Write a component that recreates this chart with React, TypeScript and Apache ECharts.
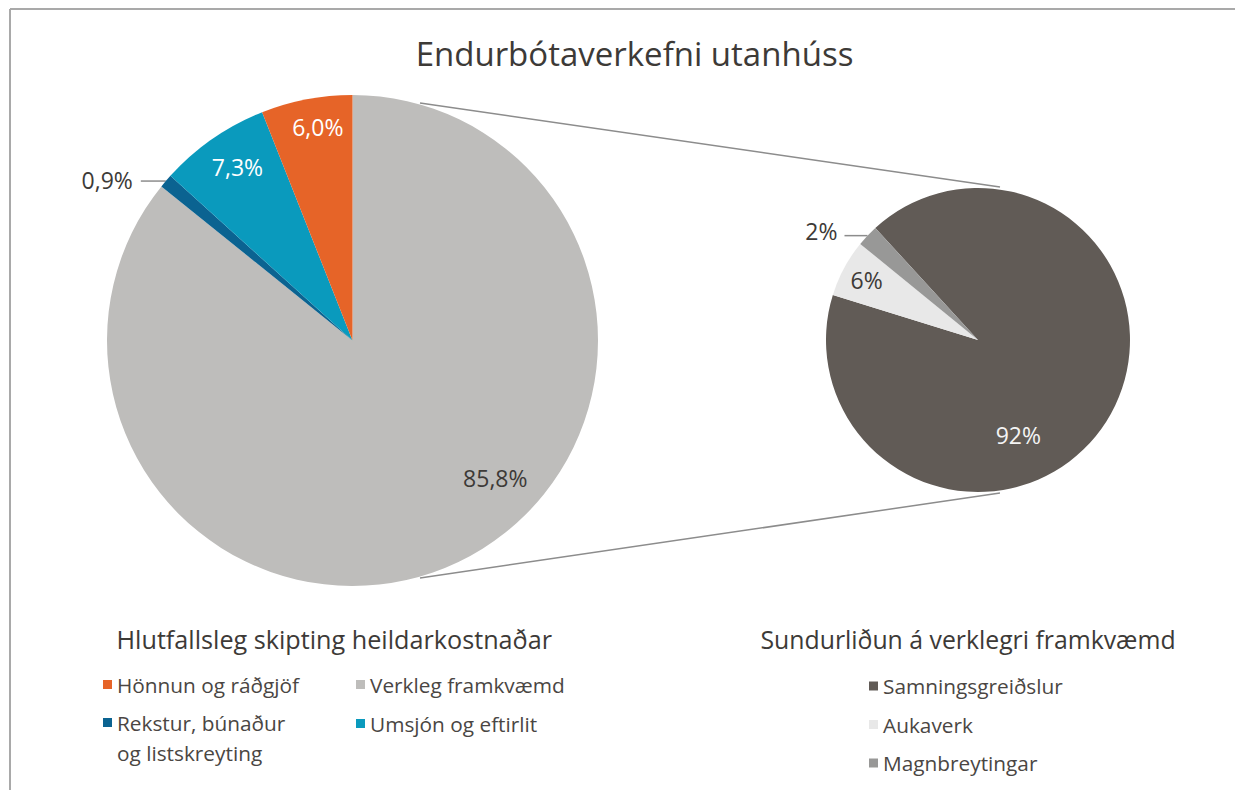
import React, { useEffect, useRef } from 'react';
import * as echarts from 'echarts';

const titleText = 'Endurbótaverkefni utanhúss';
const leftLegendTitle = 'Hlutfallsleg skipting heildarkostnaðar';
const rightLegendTitle = 'Sundurliðun á verklegri framkvæmd';

const leftCategories = ['Verkleg framkvæmd', 'Rekstur, búnaður og listskreyting', 'Umsjón og eftirlit', 'Hönnun og ráðgjöf'];
const leftValues = [85.8, 0.9, 7.3, 6.0];
const rightCategories = ['Samningsgreiðslur', 'Aukaverk', 'Magnbreytingar'];
const rightValues = [91.6, 6.1, 2.3];

const leftColors = ['#bebdbb', '#0b6391', '#0a9abd', '#e66428'];
const rightColors = ['#615b56', '#e8e8e8', '#989897'];
const DARK = '#3d3a37';
const leftLabelColors = [DARK, DARK, '#ffffff', '#ffffff'];
const rightLabelColors = ['#f4f4f4', DARK, DARK];
const leftOutside = [false, true, false, false];
const rightOutside = [false, false, true];
// inside label anchors, offsets from the pie centre (styling)
const leftLabelOffsets: (number[] | null)[] = [[142.8, 137.8], null, [-115, -173.3], [-34.7, -213.8]];
const rightLabelOffsets: (number[] | null)[] = [[40.3, 95], [-111.3, -60], null];

const FONT = '"Open Sans", "Noto Sans", sans-serif';
const LEFT_C = [352.5, 340.5];
const LEFT_R = 245.5;
const RIGHT_C = [978, 340];
const RIGHT_R = 152;

export default function App() {
  const ref = useRef<HTMLDivElement>(null);
  useEffect(() => {
    if (!ref.current) return;
    const chart = echarts.init(ref.current, undefined, { renderer: 'svg' });
    const legendText = { fontFamily: FONT, fontSize: 20.8, color: '#4a4643', lineHeight: 30 };
    const legendCommon = { orient: 'vertical', padding: 0, icon: 'rect', itemWidth: 9, itemHeight: 9, selectedMode: false };
    const option: any = {
      animation: false,
      backgroundColor: '#ffffff',
      title: [
        { text: titleText, left: 634.5, top: 37, textAlign: 'center', padding: 0,
          textStyle: { fontFamily: FONT, fontSize: 33, fontWeight: 'normal', color: DARK } },
        { text: leftLegendTitle, left: 116.5, top: 626, padding: 0,
          textStyle: { fontFamily: FONT, fontSize: 25.2, fontWeight: 'normal', color: DARK } },
        { text: rightLegendTitle, left: 760.5, top: 626, padding: 0,
          textStyle: { fontFamily: FONT, fontSize: 24.8, fontWeight: 'normal', color: DARK } },
      ],
      legend: [
        { ...legendCommon, data: [leftCategories[3]], left: 103, top: 669.5, textStyle: legendText },
        { ...legendCommon, data: [leftCategories[1]], left: 103, top: 677.5,
          formatter: () => '\nRekstur, búnaður\nog listskreyting', textStyle: legendText },
        { ...legendCommon, data: [leftCategories[0], leftCategories[2]], left: 356, top: 669.5, itemGap: 9, textStyle: legendText },
        { ...legendCommon, data: rightCategories, left: 869, top: 671, itemGap: 8.5, textStyle: legendText },
      ],
      graphic: [
        { type: 'line', shape: { x1: 10, y1: 9, x2: 1235, y2: 9 }, style: { stroke: '#a9a9a9', lineWidth: 2 }, silent: true },
        { type: 'line', shape: { x1: 10, y1: 9, x2: 10, y2: 790 }, style: { stroke: '#a9a9a9', lineWidth: 2 }, silent: true },
        { type: 'line', shape: { x1: 420, y1: 103, x2: 1000, y2: 187 }, style: { stroke: '#8c8c8c', lineWidth: 1.5 }, silent: true },
        { type: 'line', shape: { x1: 420, y1: 578, x2: 1000, y2: 493 }, style: { stroke: '#8c8c8c', lineWidth: 1.5 }, silent: true },
      ],
      series: [
        {
          type: 'pie',
          center: LEFT_C,
          radius: LEFT_R,
          startAngle: 90,
          clockwise: true,
          avoidLabelOverlap: false,
          emphasis: { disabled: true },
          label: {
            show: true, position: 'inside', fontFamily: FONT, fontSize: 23,
            formatter: (p: any) => p.value.toFixed(1).replace('.', ',') + '%',
          },
          labelLine: { show: false },
          labelLayout: (p: any) => {
            const off = leftLabelOffsets[p.dataIndex];
            if (!off) return { dy: -1.5 };
            return { x: LEFT_C[0] + off[0], y: LEFT_C[1] + off[1], align: 'center', verticalAlign: 'middle' };
          },
          data: leftCategories.map((name, i) => ({
            name,
            value: leftValues[i],
            itemStyle: { color: leftColors[i] },
            label: leftOutside[i]
              ? { position: 'outside', color: leftLabelColors[i], distanceToLabelLine: 8 }
              : { color: leftLabelColors[i] },
            labelLine: leftOutside[i]
              ? { show: true, length: 0, length2: 25, lineStyle: { color: '#8c8c8c', width: 1.5 } }
              : { show: false },
          })),
        },
        {
          type: 'pie',
          center: RIGHT_C,
          radius: RIGHT_R,
          startAngle: 132.5,
          clockwise: true,
          avoidLabelOverlap: false,
          emphasis: { disabled: true },
          label: {
            show: true, position: 'inside', fontFamily: FONT, fontSize: 23,
            formatter: (p: any) => Math.round(p.value) + '%',
          },
          labelLine: { show: false },
          labelLayout: (p: any) => {
            const off = rightLabelOffsets[p.dataIndex];
            if (!off) return { dy: -5 };
            return { x: RIGHT_C[0] + off[0], y: RIGHT_C[1] + off[1], align: 'center', verticalAlign: 'middle' };
          },
          data: rightCategories.map((name, i) => ({
            name,
            value: rightValues[i],
            itemStyle: { color: rightColors[i] },
            label: rightOutside[i]
              ? { position: 'outside', color: rightLabelColors[i], distanceToLabelLine: 7 }
              : { color: rightLabelColors[i] },
            labelLine: rightOutside[i]
              ? { show: true, length: 0, length2: 23, lineStyle: { color: '#8c8c8c', width: 1.5 } }
              : { show: false },
          })),
        },
      ],
    };
    chart.setOption(option);
    return () => chart.dispose();
  }, []);
  return <div ref={ref} style={{ position: 'absolute', left: 0, top: 0, width: 1235, height: 790 }} />;
}
